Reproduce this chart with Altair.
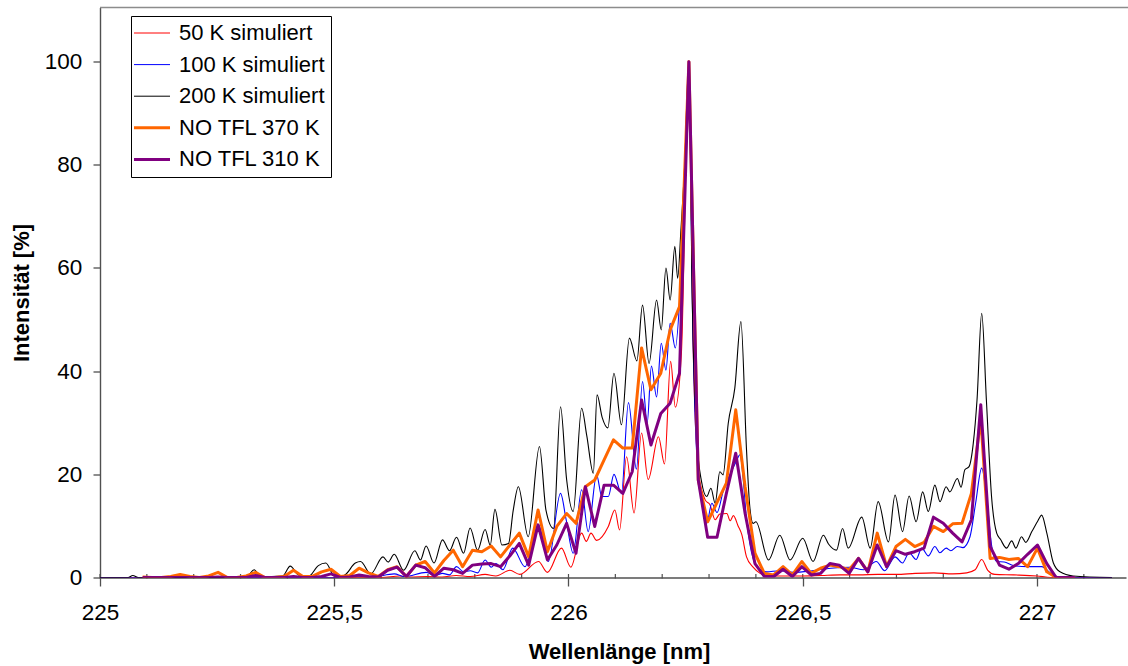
import altair as alt
import pandas as pd

# ---------------- data ----------------
series_names = ["50 K simuliert", "100 K simuliert", "200 K simuliert", "NO TFL 370 K", "NO TFL 310 K"]
series_colors = ["#FF0000", "#0000FF", "#000000", "#FF6600", "#800080"]

red_lam = [
    225.000, 225.600, 225.640, 225.660, 225.700, 225.730, 225.760, 225.790, 225.822, 225.845,
    225.875, 225.896, 225.936, 225.955, 225.985, 226.005, 226.028, 226.038, 226.048, 226.060,
    226.085, 226.099, 226.109, 226.124, 226.140, 226.156, 226.170, 226.192, 226.205, 226.218,
    226.228, 226.241, 226.257, 226.266, 226.278, 226.292, 226.302, 226.313, 226.323, 226.338,
    226.345, 226.352, 226.362, 226.370, 226.380, 226.394, 226.409, 226.423, 226.460, 226.500,
    226.540, 226.580, 226.620, 226.660, 226.700, 226.740, 226.780, 226.820, 226.850, 226.868,
    226.882, 226.895, 226.910, 226.950, 227.000, 227.030, 227.160]
red_int = [
    0, 0, 0.3, 0.1, 0.2, 0.1, 0.4, 0.2, 0.6, 0.3,
    1.4, 0.6, 3.1, 1.0, 5.7, 2.0, 8.6, 7.0, 8.6, 7.2,
    9.9, 13.1, 9.2, 23.4, 12.5, 28.0, 19.0, 27.3, 22.0, 41.9,
    33.0, 43.5, 100, 45.0, 20.0, 15.0, 14.1, 11.2, 12.3, 12.4,
    11.0, 12.0, 10.0, 8.3, 4.0, 2.0, 0.8, 0.3, 0.3, 0.3,
    0.4, 0.5, 0.5, 0.6, 0.6, 0.8, 0.9, 0.7, 0.9, 1.5,
    3.5, 1.4, 0.6, 0.5, 0.3, 0, 0]

blue_lam = [
    225.000, 225.500, 225.545, 225.580, 225.628, 225.650, 225.696, 225.715, 225.731, 225.746,
    225.761, 225.776, 225.790, 225.806, 225.822, 225.835, 225.845, 225.860, 225.881, 225.907,
    225.936, 225.957, 225.983, 225.995, 226.010, 226.028, 226.042, 226.060, 226.071, 226.085,
    226.097, 226.113, 226.128, 226.145, 226.158, 226.168, 226.177, 226.188, 226.198, 226.208,
    226.217, 226.228, 226.240, 226.257, 226.265, 226.275, 226.288, 226.295, 226.306, 226.317,
    226.331, 226.345, 226.358, 226.366, 226.373, 226.380, 226.387, 226.402, 226.423, 226.450,
    226.480, 226.520, 226.560, 226.600, 226.630, 226.657, 226.675, 226.697, 226.713, 226.727,
    226.742, 226.754, 226.768, 226.782, 226.793, 226.806, 226.816, 226.830, 226.842, 226.857,
    226.869, 226.882, 226.892, 226.903, 226.914, 226.930, 226.950, 226.980, 227.010, 227.030,
    227.050, 227.160]
blue_int = [
    0, 0, 0.3, 0.1, 0.7, 0.2, 1.0, 0.4, 0.8, 0.5,
    2.1, 1.1, 1.3, 0.9, 3.4, 2.0, 2.7, 1.5, 5.7, 2.1,
    10.2, 3.1, 16.3, 11.2, 4.7, 17.0, 8.9, 19.9, 15.7, 15.7,
    20.0, 16.3, 33.9, 21.0, 38.0, 30.0, 41.0, 35.0, 45.4, 40.2,
    49.3, 44.5, 58.0, 96.0, 50.0, 22.0, 13.4, 10.5, 14.4, 12.6,
    17.0, 20.0, 22.5, 23.8, 19.0, 11.2, 6.6, 2.1, 1.1, 1.3,
    1.0, 1.3, 1.8, 2.0, 1.5, 3.1, 1.3, 4.0, 2.8, 4.8,
    3.5, 5.7, 4.2, 6.0, 4.8, 5.7, 5.2, 6.0, 5.8, 7.9,
    14.4, 21.2, 16.0, 6.3, 3.1, 3.0, 2.3, 2.1, 2.1, 0.8,
    0, 0]

black_lam = [
    225.000, 225.060, 225.070, 225.082, 225.300, 225.316, 225.329, 225.343, 225.390, 225.406,
    225.424, 225.445, 225.466, 225.482, 225.500, 225.520, 225.545, 225.556, 225.578, 225.604,
    225.615, 225.628, 225.648, 225.672, 225.684, 225.696, 225.713, 225.731, 225.746, 225.761,
    225.776, 225.790, 225.806, 225.822, 225.833, 225.843, 225.858, 225.872, 225.882, 225.893,
    225.914, 225.938, 225.952, 225.968, 225.983, 225.996, 226.010, 226.028, 226.039, 226.053,
    226.061, 226.072, 226.084, 226.097, 226.113, 226.130, 226.146, 226.158, 226.172, 226.188,
    226.198, 226.208, 226.217, 226.227, 226.233, 226.240, 226.248, 226.257, 226.264, 226.274,
    226.284, 226.295, 226.304, 226.313, 226.323, 226.330, 226.341, 226.355, 226.368, 226.380,
    226.387, 226.394, 226.400, 226.427, 226.451, 226.473, 226.500, 226.522, 226.544, 226.555,
    226.572, 226.585, 226.597, 226.626, 226.644, 226.661, 226.683, 226.697, 226.713, 226.727,
    226.742, 226.756, 226.768, 226.782, 226.793, 226.806, 226.814, 226.830, 226.838, 226.846,
    226.855, 226.864, 226.872, 226.882, 226.892, 226.903, 226.914, 226.922, 226.935, 226.946,
    226.955, 226.967, 226.976, 226.989, 227.002, 227.010, 227.021, 227.035, 227.049, 227.077,
    227.160]
black_int = [
    0, 0, 0.4, 0, 0, 0.4, 1.5, 0.2, 0.3, 2.2,
    0.5, 0.2, 2.3, 2.8, 0.4, 0.4, 2.8, 3.1, 0.7, 4.0,
    3.0, 4.5, 1.4, 5.2, 3.4, 6.1, 2.8, 7.3, 5.2, 7.8,
    4.7, 9.6, 5.3, 9.3, 6.3, 13.2, 6.3, 6.6, 13.0, 17.6,
    7.9, 25.4, 13.0, 9.5, 33.1, 19.0, 12.8, 32.8, 27.5, 20.2,
    35.4, 31.0, 29.0, 39.6, 29.6, 46.4, 42.0, 52.8, 41.5, 53.8,
    48.0, 60.0, 53.8, 64.2, 58.0, 67.4, 80.0, 100.0, 55.0, 26.7,
    18.6, 15.7, 17.3, 14.4, 20.5, 19.9, 29.9, 36.7, 49.6, 24.7,
    13.7, 10.5, 10.8, 3.4, 8.2, 3.4, 7.6, 3.1, 8.2, 6.5,
    5.3, 9.5, 5.7, 11.7, 5.7, 14.7, 6.9, 16.0, 8.9, 15.8,
    10.8, 16.6, 12.8, 17.9, 14.7, 17.6, 16.6, 19.2, 17.5, 20.9,
    21.5, 26.0, 34.4, 51.2, 34.4, 15.7, 8.6, 7.4, 5.7, 7.1,
    5.7, 7.9, 6.8, 8.9, 11.0, 12.1, 8.6, 2.8, 1.1, 0.3,
    0]

meas_lam = [
    225.091, 225.111, 225.131, 225.151, 225.171, 225.192, 225.212, 225.232, 225.252, 225.272,
    225.292, 225.312, 225.332, 225.352, 225.372, 225.393, 225.413, 225.433, 225.453, 225.473,
    225.493, 225.513, 225.533, 225.553, 225.573, 225.594, 225.614, 225.634, 225.654, 225.674,
    225.694, 225.714, 225.734, 225.754, 225.774, 225.795, 225.815, 225.835, 225.855, 225.875,
    225.895, 225.915, 225.935, 225.955, 225.975, 225.996, 226.016, 226.036, 226.056, 226.076,
    226.096, 226.116, 226.136, 226.156, 226.176, 226.197, 226.217, 226.237, 226.257, 226.277,
    226.297, 226.317, 226.337, 226.357, 226.377, 226.398, 226.418, 226.438, 226.458, 226.478,
    226.498, 226.518, 226.538, 226.558, 226.578, 226.599, 226.619, 226.639, 226.659, 226.679,
    226.699, 226.719, 226.739, 226.759, 226.779, 226.800, 226.820, 226.840, 226.860, 226.880,
    226.900, 226.920, 226.940, 226.960, 226.980, 227.001, 227.021, 227.041, 227.061, 227.081]
orange_int = [
    0.1, 0, 0, 0.2, 0.6, 0.2, 0, 0.3, 1.0, 0,
    0, 0.3, 1.0, 0, 0, 0.2, 1.4, 0.2, 0.2, 1.1,
    1.6, 0.2, 0.4, 1.8, 0.9, 0.2, 1.5, 2.1, 0.2, 2.4,
    3.1, 0.9, 3.3, 5.3, 2.1, 5.3, 5.0, 6.1, 4.0, 6.3,
    8.6, 4.0, 13.1, 5.0, 9.9, 12.4, 10.5, 17.6, 18.9, 22.8,
    26.7, 25.1, 25.1, 44.5, 36.4, 39.6, 48.0, 52.5, 100, 18.9,
    10.8, 14.5, 18.3, 32.5, 17.6, 4.7, 0.8, 0.5, 2.1, 0.5,
    3.1, 0.8, 1.8, 2.4, 2.1, 1.5, 3.7, 1.1, 8.6, 2.1,
    6.0, 7.4, 6.0, 6.8, 9.9, 8.9, 10.4, 10.5, 16.3, 30.9,
    3.7, 3.9, 3.5, 3.7, 2.1, 5.7, 1.1, 0, 0, 0]
purple_int = [
    0, 0, 0, 0, 0, 0, 0, 0, 0.1, 0,
    0, 0, 0.4, 0, 0, 0, 0.2, 0, 0, 0.2,
    0.7, 0, 0.1, 0.5, 0.2, 0.1, 1.4, 2.0, 0.2, 2.4,
    1.9, 0.2, 1.8, 1.5, 0.8, 2.4, 2.6, 2.7, 2.1, 4.2,
    6.6, 2.4, 10.2, 3.4, 6.3, 10.5, 4.7, 17.6, 9.9, 17.9,
    17.9, 16.3, 20.5, 34.4, 25.7, 31.8, 33.8, 39.6, 100, 18.9,
    7.8, 7.8, 16.3, 24.1, 12.4, 2.7, 0.2, 0.2, 1.6, 0.2,
    2.1, 0.5, 0.8, 2.7, 2.4, 0.8, 3.7, 1.1, 6.3, 2.1,
    5.2, 4.5, 5.0, 5.7, 11.7, 10.5, 8.6, 6.9, 11.2, 33.5,
    6.0, 2.4, 1.6, 2.7, 4.5, 6.3, 2.7, 0, 0, 0]

x_major = [225, 225.5, 226, 226.5, 227]
x_all_ticks = [225.0, 225.1, 225.2, 225.3, 225.4, 225.5, 225.6, 225.7, 225.8, 225.9, 226.0,
               226.1, 226.2, 226.3, 226.4, 226.5, 226.6, 226.7, 226.8, 226.9, 227.0, 227.1]
y_ticks = [0, 20, 40, 60, 80, 100]


def frame(name, xs, ys):
    assert len(xs) == len(ys), name
    return pd.DataFrame({"lam": xs, "val": ys, "series": name})


# ---------------- encodings ----------------
FONT = "Liberation Sans"
AXIS_COL = "#505050"

xscale = alt.Scale(domain=[225, 227.19], nice=False, zero=False)
yscale = alt.Scale(domain=[0, 110.5], nice=False, zero=True)

x_axis = alt.Axis(values=x_major, labelExpr="replace(toString(datum.value), '.', ',')",
                  title="Wellenlänge [nm]", grid=False, tickSize=8.5, tickWidth=1.3,
                  labelPadding=15.5, labelFontSize=22.5, labelFlush=False, labelOverlap=False,
                  titleFontSize=22, titleFontWeight="bold", titleBaseline="alphabetic",
                  titleAlign="center", titleX=519, titleY=81)
y_axis = alt.Axis(values=y_ticks, title="Intensität [%]", grid=False, tickSize=7, tickWidth=1.3,
                  labelPadding=11.3, labelFontSize=22.5, labelFlush=False, labelOverlap=False,
                  titleFontSize=22, titleFontWeight="bold", titleBaseline="alphabetic",
                  titleAlign="center", titleAngle=270, titleX=-72, titleY=285)

legend = alt.Legend(title=None, orient="none", legendX=31, legendY=8.5, direction="vertical",
                    fillColor="white", strokeColor="black", padding=6, rowPadding=9.6,
                    labelFontSize=22, labelOffset=20, labelColor="black", labelLimit=400,
                    symbolType="M-0.933,0L1.467,0", symbolSize=900,
                    symbolStrokeWidth=alt.ExprRef(
                        "indexof(['NO TFL 370 K','NO TFL 310 K'], datum.value) >= 0 ? 3 : 1"))

X = alt.X("lam:Q", scale=xscale, axis=x_axis)
Y = alt.Y("val:Q", scale=yscale, axis=y_axis)
C = alt.Color("series:N", scale=alt.Scale(domain=series_names, range=series_colors), legend=legend)


def sim_layer(name, xs, ys):
    return alt.Chart(frame(name, xs, ys)).mark_line(
        interpolate="monotone", clip=True).encode(
        x=X, y=Y, color=C, strokeWidth=alt.value(1.1))


def meas_layer(name, xs, ys):
    return alt.Chart(frame(name, xs, ys)).mark_line(
        strokeJoin="round", clip=True).encode(
        x=X, y=Y, color=C, strokeWidth=alt.value(3))


ticks = alt.Chart(pd.DataFrame({"lam": x_all_ticks})).mark_rule(
    color=AXIS_COL, strokeWidth=1.2).encode(x=X, y=alt.value(566.5), y2=alt.value(571))

border = alt.Chart(pd.DataFrame({"a": [0]})).mark_rule(
    color="#8c8c8c", strokeWidth=1.5).encode(x=alt.value(0), x2=alt.value(1028), y=alt.value(0))

chart = alt.layer(
    ticks,
    border,
    sim_layer(series_names[0], red_lam, red_int),
    sim_layer(series_names[1], blue_lam, blue_int),
    sim_layer(series_names[2], black_lam, black_int),
    meas_layer(series_names[3], meas_lam, orange_int),
    meas_layer(series_names[4], meas_lam, purple_int),
).properties(
    width=1026, height=570,
    padding={"left": 100, "top": 7.5, "right": 2, "bottom": 88.5},
    autosize=alt.AutoSizeParams(type="none"),
).configure(
    font=FONT, background="white"
).configure_axis(
    domainColor=AXIS_COL, domainWidth=1.4, tickColor=AXIS_COL,
    labelColor="black", titleColor="black", labelFont=FONT, titleFont=FONT
).configure_legend(
    labelFont=FONT
).configure_view(stroke=None)

chart.save("out.html", embed_options={"renderer": "svg", "actions": False})
